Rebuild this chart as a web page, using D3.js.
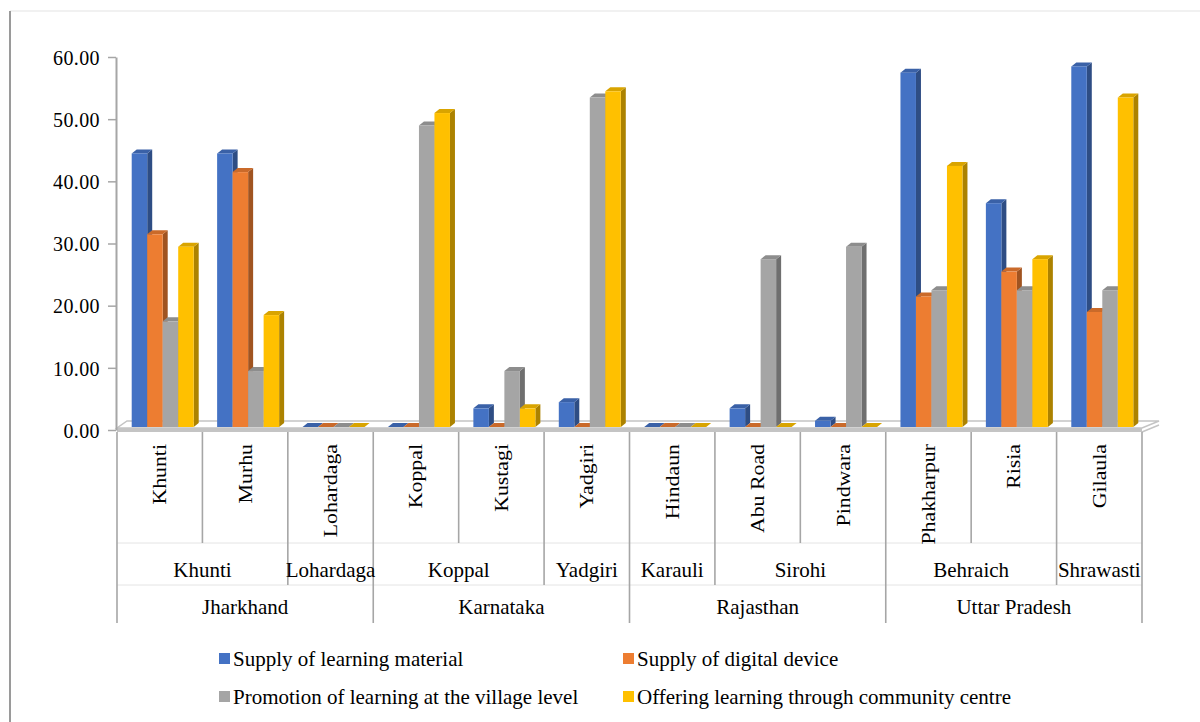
<!DOCTYPE html>
<html>
<head>
<meta charset="utf-8">
<script src="https://cdn.jsdelivr.net/npm/d3@7"></script>
<style>
  html, body { margin: 0; padding: 0; background: #ffffff; }
  svg { display: block; }
</style>
</head>
<body>
<svg id="chart" width="1200" height="722"></svg>
<script>
// Blocks (innermost category level), with their district and state
const blocks = ["Khunti", "Murhu", "Lohardaga", "Koppal", "Kustagi", "Yadgiri",
                "Hindaun", "Abu Road", "Pindwara", "Phakharpur", "Risia", "Gilaula"];
const blockDistricts = ["Khunti", "Khunti", "Lohardaga", "Koppal", "Koppal", "Yadgiri",
                        "Karauli", "Sirohi", "Sirohi", "Behraich", "Behraich", "Shrawasti"];
const blockStates = ["Jharkhand", "Jharkhand", "Jharkhand", "Karnataka", "Karnataka", "Karnataka",
                     "Rajasthan", "Rajasthan", "Rajasthan", "Uttar Pradesh", "Uttar Pradesh", "Uttar Pradesh"];

// Series values (%)
const seriesNames = ["Supply of learning material", "Supply of digital device",
                     "Promotion of learning at the village level", "Offering learning through community centre"];
const learningMaterial  = [44, 44, 0, 0, 3, 4, 0, 3, 1, 57, 36, 58];
const digitalDevice     = [31, 41, 0, 0, 0, 0, 0, 0, 0, 21, 25, 18.5];
const villagePromotion  = [17, 9, 0, 48.5, 9, 53, 0, 27, 29, 22, 22, 22];
const communityCentre   = [29, 18, 0, 50.5, 3, 54, 0, 0, 0, 42, 27, 53];
const seriesValues = [learningMaterial, digitalDevice, villagePromotion, communityCentre];
const seriesColors = ["#4472C4", "#ED7D31", "#A5A5A5", "#FFC000"];

const yTicks = [0, 10, 20, 30, 40, 50, 60];

const FONT = "Liberation Serif";

const svg = d3.select("#chart");

// Outer chart frame (left and top edges)
svg.append("line").attr("x1", 10).attr("y1", 11).attr("x2", 1200).attr("y2", 11)
  .attr("stroke", "#e3e3e3").attr("stroke-width", 1.2);
svg.append("line").attr("x1", 10).attr("y1", 11).attr("x2", 10).attr("y2", 722)
  .attr("stroke", "#9a9a9a").attr("stroke-width", 2);

const x = d3.scaleBand().domain(blocks).range([117, 1142]);
const y = d3.scaleLinear().domain([0, 60]).range([430, 57]);

// 3D depth offset of the bars and floor
const depth = { dx: 5, dy: -4 };
const barLift = 3;
const groupWidth = 62;
const xs = d3.scaleBand().domain(d3.range(seriesNames.length)).range([0, groupWidth]);

// Floor slab
const floorBackY = 421, floorFrontY = 428;
svg.append("rect").attr("x", x.range()[0]).attr("y", floorFrontY)
  .attr("width", x.range()[1] - x.range()[0]).attr("height", 4)
  .attr("fill", "#c4c4c4");
svg.append("polygon")
  .attr("points", [[x.range()[0], floorFrontY], [x.range()[1], floorFrontY],
                   [x.range()[1] + 17, floorBackY], [x.range()[0] + 10, floorBackY]].join(" "))
  .attr("fill", "#ffffff").attr("stroke", "#c4c4c4").attr("stroke-width", 1.5);
svg.append("line").attr("x1", x.range()[1]).attr("y1", floorFrontY + 4)
  .attr("x2", x.range()[1] + 17).attr("y2", floorBackY + 4)
  .attr("stroke", "#c4c4c4").attr("stroke-width", 1.5);

// Y axis
const yAxis = svg.append("g").attr("transform", "translate(116,0)")
  .call(d3.axisLeft(y).tickValues(yTicks).tickFormat(d3.format(".2f")).tickSize(8).tickSizeOuter(0))
  .attr("font-family", FONT).attr("font-size", 20);
yAxis.select(".domain").attr("stroke", "#a6a6a6").attr("stroke-width", 2);
yAxis.selectAll(".tick line").attr("stroke", "#a6a6a6").attr("stroke-width", 1.5);
yAxis.selectAll(".tick text")
  .attr("x", -16).attr("dy", "0.36em")
  .attr("font-family", FONT).attr("font-size", 20)
  .attr("letter-spacing", 0.4).attr("fill", "#000");

// Bars as 3D prisms: side face, top face, then front face
const barsG = svg.append("g");
blocks.forEach((b, i) => {
  const gx = x(b) + (x.bandwidth() - groupWidth) / 2 + 3;
  seriesValues.forEach((vals, s) => {
    const v = vals[i];
    const c = d3.color(seriesColors[s]);
    const x0 = gx + xs(s), w = xs.bandwidth();
    const top = y(v) - barLift, bottom = y(0) - barLift;
    barsG.append("polygon")
      .attr("points", [[x0 + w, top], [x0 + w + depth.dx, top + depth.dy],
                       [x0 + w + depth.dx, bottom + depth.dy], [x0 + w, bottom]].join(" "))
      .attr("fill", c.darker(1.1).formatHex());
    barsG.append("polygon")
      .attr("points", [[x0, top], [x0 + depth.dx, top + depth.dy],
                       [x0 + w + depth.dx, top + depth.dy], [x0 + w, top]].join(" "))
      .attr("fill", c.darker(0.45).formatHex());
    barsG.append("rect")
      .attr("x", x0).attr("y", top).attr("width", w).attr("height", Math.max(0, bottom - top))
      .attr("fill", c.formatHex());
  });
});

// Multi-level category axis
const x0 = x.range()[0], x1 = x.range()[1];
const row1 = 543, row2 = 585, row3 = 623;
const lineColor = "#a6a6a6";
const axisG = svg.append("g").attr("font-family", FONT).attr("font-size", 21).attr("fill", "#000");

// faint row separators
[row1, row2].forEach(yy => {
  axisG.append("line").attr("x1", x0).attr("x2", x1).attr("y1", yy).attr("y2", yy)
    .attr("stroke", "#e4e4e4").attr("stroke-width", 1);
});

// vertical dividers; length depends on which level changes at the boundary
for (let i = 0; i <= blocks.length; i++) {
  const xx = i < blocks.length ? x(blocks[i]) : x1;
  let yEnd;
  if (i === 0 || i === blocks.length || blockStates[i] !== blockStates[i - 1]) yEnd = row3;
  else if (blockDistricts[i] !== blockDistricts[i - 1]) yEnd = row2;
  else yEnd = row1;
  axisG.append("line").attr("x1", xx).attr("x2", xx).attr("y1", 432).attr("y2", yEnd)
    .attr("stroke", lineColor).attr("stroke-width", 1.6);
}

// block labels (rotated)
axisG.selectAll("text.block").data(blocks).join("text")
  .attr("class", "block")
  .attr("transform", d => `translate(${x(d) + x.bandwidth() / 2},444) rotate(-90) scale(1.04,0.86)`)
  .attr("text-anchor", "end").attr("dy", "0.36em")
  .text(d => d);

// group consecutive runs of a label
function runs(labels) {
  const out = [];
  labels.forEach((l, i) => {
    if (out.length && out[out.length - 1].label === l) out[out.length - 1].end = i;
    else out.push({ label: l, start: i, end: i });
  });
  return out;
}
const runCenter = r => (x(blocks[r.start]) + x(blocks[r.end]) + x.bandwidth()) / 2;

axisG.selectAll("text.district").data(runs(blockDistricts)).join("text")
  .attr("class", "district")
  .attr("x", runCenter).attr("y", 577)
  .attr("text-anchor", "middle")
  .text(d => d.label);

axisG.selectAll("text.state").data(runs(blockStates)).join("text")
  .attr("class", "state")
  .attr("x", runCenter).attr("y", 614)
  .attr("text-anchor", "middle")
  .text(d => d.label);

// Legend, two columns by two rows
const legendPos = [[219, 659], [623, 659], [219, 697], [623, 697]];
const legend = svg.append("g").attr("font-family", FONT).attr("font-size", 21).attr("fill", "#000");
seriesNames.forEach((name, s) => {
  const [lx, ly] = legendPos[s];
  legend.append("rect").attr("x", lx).attr("y", ly - 6).attr("width", 11).attr("height", 11)
    .attr("fill", seriesColors[s]);
  legend.append("text").attr("x", lx + 14).attr("y", ly + 7).text(name);
});
</script>
</body>
</html>
